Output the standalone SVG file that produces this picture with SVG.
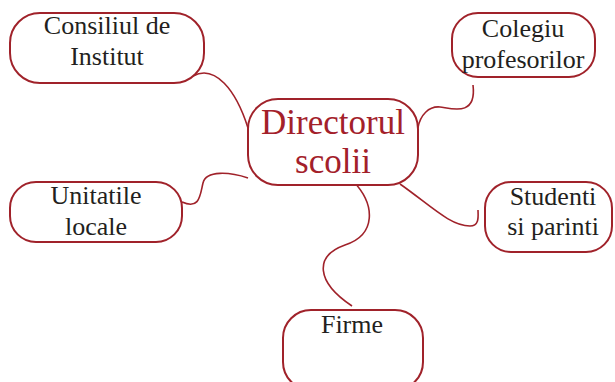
<svg xmlns="http://www.w3.org/2000/svg" width="615" height="382" viewBox="0 0 615 382">
<style>
.box{fill:#fff;stroke:#a0222a;stroke-width:2}
.link{fill:none;stroke:#a0222a;stroke-width:1.6}
.t{font-family:"Liberation Serif","DejaVu Serif",serif;font-size:26px;fill:#231f20;text-anchor:middle}
.main{font-family:"Liberation Serif","DejaVu Serif",serif;font-size:35px;fill:#a3202a;text-anchor:middle}
</style>
<rect width="615" height="382" fill="#fff"/>
<g id="connectors">
<path class="link" d="M193,76 C215,64 236,90 248,128"/>
<path class="link" d="M473,85 C477,118 450,108 440,107 C429,106 420,115 418,128"/>
<path class="link" d="M182,202 C200,210 200,195 203,183 C206,170 230,172 248,178"/>
<path class="link" d="M400,184 C430,205 450,226 470,226 C480,226 478,215 478,210"/>
<path class="link" d="M353,181 C376,205 376,235 345,245 C314,256 316,282 352,306"/>
</g>
<g id="consiliul">
<rect class="box" x="10" y="13" width="194" height="70" rx="30"/>
<text class="t" x="107" y="34">Consiliul de</text>
<text class="t" x="107" y="65">Institut</text>
</g>
<g id="colegiu">
<rect class="box" x="452" y="13" width="143" height="64" rx="26"/>
<text class="t" x="523" y="37">Colegiu</text>
<text class="t" x="523" y="68">profesorilor</text>
</g>
<g id="director">
<rect class="box" x="248" y="99" width="170" height="86" rx="30"/>
<text class="main" x="333" y="134">Directorul</text>
<text class="main" x="333" y="173">scolii</text>
</g>
<g id="unitatile">
<rect class="box" x="10" y="182" width="172" height="60" rx="26"/>
<text class="t" x="96" y="204">Unitatile</text>
<text class="t" x="96" y="235">locale</text>
</g>
<g id="studenti">
<rect class="box" x="485" y="182" width="127" height="70" rx="26"/>
<text class="t" x="553" y="205">Studenti</text>
<text class="t" x="553" y="235">si parinti</text>
</g>
<g id="firme">
<rect class="box" x="283" y="310" width="140" height="80" rx="28"/>
<text class="t" x="352" y="333">Firme</text>
</g>
</svg>
